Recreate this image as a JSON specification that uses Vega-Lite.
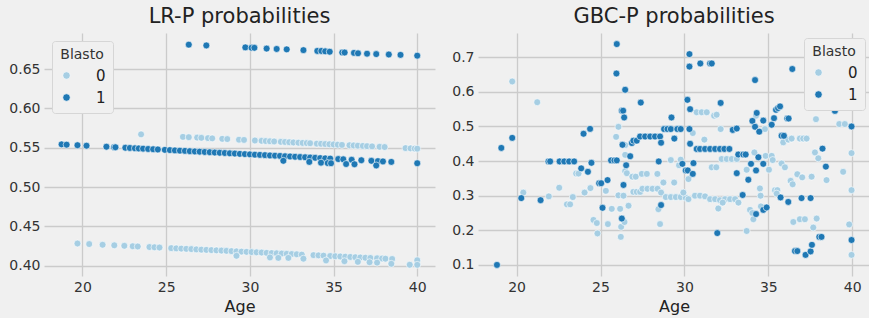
{
  "$schema": "https://vega.github.io/schema/vega-lite/v6.json",
  "background": "#f0f0f0",
  "padding": {"left": 8, "top": 6, "right": 0, "bottom": 4},
  "spacing": 16,
  "datasets": {
    "lr": [
      {"Age": 23.5, "P": 0.567, "Blasto": "0"},
      {"Age": 26.0, "P": 0.5638, "Blasto": "0"}, {"Age": 26.35, "P": 0.5634, "Blasto": "0"}, {"Age": 26.85, "P": 0.5629, "Blasto": "0"}, {"Age": 27.1, "P": 0.5626, "Blasto": "0"}, {"Age": 27.5, "P": 0.5622, "Blasto": "0"}, {"Age": 27.75, "P": 0.5619, "Blasto": "0"}, {"Age": 28.35, "P": 0.5613, "Blasto": "0"}, {"Age": 28.65, "P": 0.561, "Blasto": "0"}, {"Age": 29.35, "P": 0.5602, "Blasto": "0"}, {"Age": 29.65, "P": 0.5599, "Blasto": "0"}, {"Age": 30.3, "P": 0.5592, "Blasto": "0"}, {"Age": 30.7, "P": 0.5588, "Blasto": "0"}, {"Age": 30.95, "P": 0.5585, "Blasto": "0"}, {"Age": 31.2, "P": 0.5582, "Blasto": "0"}, {"Age": 31.45, "P": 0.558, "Blasto": "0"}, {"Age": 31.85, "P": 0.5575, "Blasto": "0"}, {"Age": 32.1, "P": 0.5573, "Blasto": "0"}, {"Age": 32.35, "P": 0.557, "Blasto": "0"}, {"Age": 32.6, "P": 0.5567, "Blasto": "0"}, {"Age": 32.9, "P": 0.5564, "Blasto": "0"}, {"Age": 33.15, "P": 0.5561, "Blasto": "0"}, {"Age": 33.4, "P": 0.5559, "Blasto": "0"}, {"Age": 33.6, "P": 0.5557, "Blasto": "0"}, {"Age": 34.0, "P": 0.5552, "Blasto": "0"}, {"Age": 34.25, "P": 0.555, "Blasto": "0"}, {"Age": 34.5, "P": 0.5547, "Blasto": "0"}, {"Age": 34.75, "P": 0.5544, "Blasto": "0"}, {"Age": 35.0, "P": 0.5542, "Blasto": "0"}, {"Age": 35.25, "P": 0.5539, "Blasto": "0"}, {"Age": 35.5, "P": 0.5536, "Blasto": "0"}, {"Age": 35.95, "P": 0.5531, "Blasto": "0"}, {"Age": 36.2, "P": 0.5529, "Blasto": "0"}, {"Age": 36.45, "P": 0.5526, "Blasto": "0"}, {"Age": 36.75, "P": 0.5523, "Blasto": "0"}, {"Age": 37.0, "P": 0.552, "Blasto": "0"}, {"Age": 37.3, "P": 0.5517, "Blasto": "0"}, {"Age": 37.75, "P": 0.5512, "Blasto": "0"}, {"Age": 38.05, "P": 0.5509, "Blasto": "0"}, {"Age": 39.3, "P": 0.5495, "Blasto": "0"}, {"Age": 39.6, "P": 0.5492, "Blasto": "0"}, {"Age": 39.85, "P": 0.5489, "Blasto": "0"}, {"Age": 40.0, "P": 0.5488, "Blasto": "0"},
      {"Age": 19.7, "P": 0.4283, "Blasto": "0"}, {"Age": 20.4, "P": 0.4276, "Blasto": "0"}, {"Age": 21.2, "P": 0.4267, "Blasto": "0"}, {"Age": 21.9, "P": 0.426, "Blasto": "0"}, {"Age": 22.5, "P": 0.4254, "Blasto": "0"}, {"Age": 23.0, "P": 0.4248, "Blasto": "0"}, {"Age": 23.3, "P": 0.4245, "Blasto": "0"}, {"Age": 24.0, "P": 0.4238, "Blasto": "0"}, {"Age": 24.3, "P": 0.4235, "Blasto": "0"}, {"Age": 24.6, "P": 0.4232, "Blasto": "0"}, {"Age": 25.3, "P": 0.4224, "Blasto": "0"}, {"Age": 25.6, "P": 0.4221, "Blasto": "0"}, {"Age": 25.9, "P": 0.4218, "Blasto": "0"}, {"Age": 26.2, "P": 0.4215, "Blasto": "0"}, {"Age": 26.5, "P": 0.4212, "Blasto": "0"}, {"Age": 26.8, "P": 0.4208, "Blasto": "0"}, {"Age": 27.1, "P": 0.4205, "Blasto": "0"}, {"Age": 27.4, "P": 0.4202, "Blasto": "0"}, {"Age": 27.7, "P": 0.4199, "Blasto": "0"}, {"Age": 28.0, "P": 0.4196, "Blasto": "0"}, {"Age": 28.3, "P": 0.4193, "Blasto": "0"}, {"Age": 28.6, "P": 0.419, "Blasto": "0"}, {"Age": 28.9, "P": 0.4186, "Blasto": "0"}, {"Age": 29.2, "P": 0.4183, "Blasto": "0"}, {"Age": 29.5, "P": 0.418, "Blasto": "0"}, {"Age": 29.8, "P": 0.4177, "Blasto": "0"}, {"Age": 30.1, "P": 0.4174, "Blasto": "0"}, {"Age": 30.4, "P": 0.4171, "Blasto": "0"}, {"Age": 30.7, "P": 0.4168, "Blasto": "0"}, {"Age": 31.0, "P": 0.4164, "Blasto": "0"}, {"Age": 31.3, "P": 0.4161, "Blasto": "0"}, {"Age": 31.6, "P": 0.4158, "Blasto": "0"}, {"Age": 31.9, "P": 0.4155, "Blasto": "0"}, {"Age": 32.2, "P": 0.4152, "Blasto": "0"}, {"Age": 32.5, "P": 0.4149, "Blasto": "0"}, {"Age": 32.8, "P": 0.4146, "Blasto": "0"}, {"Age": 33.1, "P": 0.4142, "Blasto": "0"}, {"Age": 33.8, "P": 0.4135, "Blasto": "0"}, {"Age": 34.1, "P": 0.4132, "Blasto": "0"}, {"Age": 34.4, "P": 0.4129, "Blasto": "0"}, {"Age": 34.8, "P": 0.4124, "Blasto": "0"}, {"Age": 35.1, "P": 0.4121, "Blasto": "0"}, {"Age": 35.4, "P": 0.4118, "Blasto": "0"}, {"Age": 35.7, "P": 0.4115, "Blasto": "0"}, {"Age": 36.0, "P": 0.4112, "Blasto": "0"}, {"Age": 36.3, "P": 0.4108, "Blasto": "0"}, {"Age": 36.6, "P": 0.4105, "Blasto": "0"}, {"Age": 36.9, "P": 0.4102, "Blasto": "0"}, {"Age": 37.2, "P": 0.4099, "Blasto": "0"}, {"Age": 37.6, "P": 0.4095, "Blasto": "0"}, {"Age": 37.9, "P": 0.4092, "Blasto": "0"}, {"Age": 38.1, "P": 0.409, "Blasto": "0"}, {"Age": 38.5, "P": 0.4086, "Blasto": "0"}, {"Age": 40.0, "P": 0.407, "Blasto": "0"},
      {"Age": 29.2, "P": 0.4127, "Blasto": "0"}, {"Age": 31.2, "P": 0.4106, "Blasto": "0"}, {"Age": 31.7, "P": 0.41, "Blasto": "0"}, {"Age": 32.3, "P": 0.41, "Blasto": "0"}, {"Age": 33.2, "P": 0.409, "Blasto": "0"}, {"Age": 34.55, "P": 0.4068, "Blasto": "0"}, {"Age": 35.65, "P": 0.4058, "Blasto": "0"}, {"Age": 36.45, "P": 0.405, "Blasto": "0"}, {"Age": 37.15, "P": 0.4045, "Blasto": "0"}, {"Age": 37.6, "P": 0.404, "Blasto": "0"}, {"Age": 38.45, "P": 0.4025, "Blasto": "0"}, {"Age": 39.55, "P": 0.4013, "Blasto": "0"}, {"Age": 40.0, "P": 0.4012, "Blasto": "0"},
      {"Age": 26.35, "P": 0.681, "Blasto": "1"}, {"Age": 27.4, "P": 0.68, "Blasto": "1"}, {"Age": 29.73, "P": 0.6775, "Blasto": "1"}, {"Age": 30.1, "P": 0.677, "Blasto": "1"}, {"Age": 30.27, "P": 0.677, "Blasto": "1"}, {"Age": 31.0, "P": 0.676, "Blasto": "1"}, {"Age": 31.6, "P": 0.6755, "Blasto": "1"}, {"Age": 32.2, "P": 0.675, "Blasto": "1"}, {"Age": 33.2, "P": 0.674, "Blasto": "1"}, {"Age": 34.03, "P": 0.673, "Blasto": "1"}, {"Age": 34.27, "P": 0.673, "Blasto": "1"}, {"Age": 34.5, "P": 0.6725, "Blasto": "1"}, {"Age": 34.77, "P": 0.672, "Blasto": "1"}, {"Age": 35.52, "P": 0.671, "Blasto": "1"}, {"Age": 35.66, "P": 0.671, "Blasto": "1"}, {"Age": 36.22, "P": 0.6705, "Blasto": "1"}, {"Age": 36.46, "P": 0.67, "Blasto": "1"}, {"Age": 37.0, "P": 0.6695, "Blasto": "1"}, {"Age": 37.55, "P": 0.669, "Blasto": "1"}, {"Age": 38.3, "P": 0.6685, "Blasto": "1"}, {"Age": 39.0, "P": 0.668, "Blasto": "1"}, {"Age": 40.0, "P": 0.667, "Blasto": "1"},
      {"Age": 18.75, "P": 0.5543, "Blasto": "1"}, {"Age": 19.05, "P": 0.5539, "Blasto": "1"}, {"Age": 19.7, "P": 0.5532, "Blasto": "1"}, {"Age": 20.24, "P": 0.5526, "Blasto": "1"}, {"Age": 21.43, "P": 0.5513, "Blasto": "1"}, {"Age": 21.89, "P": 0.5507, "Blasto": "1"}, {"Age": 21.97, "P": 0.5506, "Blasto": "1"}, {"Age": 22.56, "P": 0.55, "Blasto": "1"}, {"Age": 22.83, "P": 0.5497, "Blasto": "1"}, {"Age": 23.13, "P": 0.5493, "Blasto": "1"}, {"Age": 23.36, "P": 0.5491, "Blasto": "1"}, {"Age": 23.62, "P": 0.5488, "Blasto": "1"}, {"Age": 23.92, "P": 0.5484, "Blasto": "1"}, {"Age": 24.22, "P": 0.5481, "Blasto": "1"}, {"Age": 24.5, "P": 0.5478, "Blasto": "1"}, {"Age": 24.92, "P": 0.5473, "Blasto": "1"}, {"Age": 25.22, "P": 0.547, "Blasto": "1"}, {"Age": 25.52, "P": 0.5466, "Blasto": "1"}, {"Age": 25.82, "P": 0.5463, "Blasto": "1"}, {"Age": 26.12, "P": 0.546, "Blasto": "1"}, {"Age": 26.41, "P": 0.5456, "Blasto": "1"}, {"Age": 26.71, "P": 0.5453, "Blasto": "1"}, {"Age": 27.0, "P": 0.545, "Blasto": "1"}, {"Age": 27.3, "P": 0.5446, "Blasto": "1"}, {"Age": 27.6, "P": 0.5443, "Blasto": "1"}, {"Age": 27.9, "P": 0.5439, "Blasto": "1"}, {"Age": 28.2, "P": 0.5436, "Blasto": "1"}, {"Age": 28.5, "P": 0.5433, "Blasto": "1"}, {"Age": 28.8, "P": 0.5429, "Blasto": "1"}, {"Age": 29.1, "P": 0.5426, "Blasto": "1"}, {"Age": 29.4, "P": 0.5422, "Blasto": "1"}, {"Age": 29.7, "P": 0.5419, "Blasto": "1"}, {"Age": 30.0, "P": 0.5416, "Blasto": "1"}, {"Age": 30.3, "P": 0.5412, "Blasto": "1"}, {"Age": 30.6, "P": 0.5409, "Blasto": "1"}, {"Age": 30.9, "P": 0.5406, "Blasto": "1"}, {"Age": 31.2, "P": 0.5402, "Blasto": "1"}, {"Age": 31.5, "P": 0.5399, "Blasto": "1"}, {"Age": 31.8, "P": 0.5396, "Blasto": "1"}, {"Age": 32.1, "P": 0.5392, "Blasto": "1"}, {"Age": 32.4, "P": 0.5389, "Blasto": "1"}, {"Age": 32.7, "P": 0.5385, "Blasto": "1"}, {"Age": 33.0, "P": 0.5382, "Blasto": "1"}, {"Age": 33.3, "P": 0.5379, "Blasto": "1"}, {"Age": 33.6, "P": 0.5375, "Blasto": "1"}, {"Age": 33.9, "P": 0.5372, "Blasto": "1"}, {"Age": 34.2, "P": 0.5368, "Blasto": "1"}, {"Age": 34.5, "P": 0.5365, "Blasto": "1"}, {"Age": 34.8, "P": 0.5362, "Blasto": "1"}, {"Age": 35.28, "P": 0.5356, "Blasto": "1"}, {"Age": 35.58, "P": 0.5353, "Blasto": "1"}, {"Age": 36.08, "P": 0.5347, "Blasto": "1"}, {"Age": 36.66, "P": 0.5341, "Blasto": "1"}, {"Age": 37.26, "P": 0.5334, "Blasto": "1"}, {"Age": 37.65, "P": 0.533, "Blasto": "1"}, {"Age": 37.95, "P": 0.5326, "Blasto": "1"}, {"Age": 38.45, "P": 0.532, "Blasto": "1"}, {"Age": 40.0, "P": 0.5303, "Blasto": "1"},
      {"Age": 32.0, "P": 0.5334, "Blasto": "1"}, {"Age": 33.55, "P": 0.532, "Blasto": "1"}, {"Age": 34.25, "P": 0.531, "Blasto": "1"}, {"Age": 34.65, "P": 0.5305, "Blasto": "1"}, {"Age": 34.85, "P": 0.5303, "Blasto": "1"}, {"Age": 35.75, "P": 0.5293, "Blasto": "1"}, {"Age": 36.25, "P": 0.529, "Blasto": "1"}, {"Age": 37.55, "P": 0.5275, "Blasto": "1"}
    ],
    "gbc": [
      {"Age": 19.74, "P": 0.63, "Blasto": "0"}, {"Age": 20.4, "P": 0.309, "Blasto": "0"}, {"Age": 21.23, "P": 0.57, "Blasto": "0"}, {"Age": 21.92, "P": 0.298, "Blasto": "0"}, {"Age": 22.54, "P": 0.323, "Blasto": "0"}, {"Age": 23.0, "P": 0.275, "Blasto": "0"}, {"Age": 23.19, "P": 0.275, "Blasto": "0"}, {"Age": 23.35, "P": 0.296, "Blasto": "0"}, {"Age": 23.55, "P": 0.364, "Blasto": "0"}, {"Age": 23.69, "P": 0.364, "Blasto": "0"}, {"Age": 24.05, "P": 0.309, "Blasto": "0"}, {"Age": 24.4, "P": 0.322, "Blasto": "0"}, {"Age": 24.58, "P": 0.23, "Blasto": "0"}, {"Age": 24.78, "P": 0.221, "Blasto": "0"}, {"Age": 24.82, "P": 0.191, "Blasto": "0"}, {"Age": 25.32, "P": 0.314, "Blasto": "0"}, {"Age": 25.44, "P": 0.218, "Blasto": "0"}, {"Age": 25.67, "P": 0.262, "Blasto": "0"}, {"Age": 25.93, "P": 0.47, "Blasto": "0"}, {"Age": 26.07, "P": 0.499, "Blasto": "0"}, {"Age": 26.07, "P": 0.301, "Blasto": "0"}, {"Age": 26.17, "P": 0.262, "Blasto": "0"}, {"Age": 26.23, "P": 0.21, "Blasto": "0"}, {"Age": 26.21, "P": 0.181, "Blasto": "0"}, {"Age": 26.37, "P": 0.3, "Blasto": "0"}, {"Age": 26.43, "P": 0.224, "Blasto": "0"}, {"Age": 26.47, "P": 0.446, "Blasto": "0"}, {"Age": 26.47, "P": 0.418, "Blasto": "0"}, {"Age": 26.47, "P": 0.371, "Blasto": "0"}, {"Age": 26.57, "P": 0.365, "Blasto": "0"}, {"Age": 26.67, "P": 0.271, "Blasto": "0"}, {"Age": 26.9, "P": 0.355, "Blasto": "0"}, {"Age": 27.1, "P": 0.355, "Blasto": "0"}, {"Age": 26.96, "P": 0.311, "Blasto": "0"}, {"Age": 27.16, "P": 0.311, "Blasto": "0"}, {"Age": 27.36, "P": 0.311, "Blasto": "0"}, {"Age": 27.5, "P": 0.32, "Blasto": "0"}, {"Age": 27.8, "P": 0.32, "Blasto": "0"}, {"Age": 28.1, "P": 0.32, "Blasto": "0"}, {"Age": 28.4, "P": 0.32, "Blasto": "0"}, {"Age": 27.46, "P": 0.363, "Blasto": "0"}, {"Age": 27.76, "P": 0.363, "Blasto": "0"}, {"Age": 28.39, "P": 0.363, "Blasto": "0"}, {"Age": 28.45, "P": 0.261, "Blasto": "0"}, {"Age": 28.55, "P": 0.218, "Blasto": "0"}, {"Age": 28.61, "P": 0.309, "Blasto": "0"}, {"Age": 28.75, "P": 0.338, "Blasto": "0"}, {"Age": 28.89, "P": 0.296, "Blasto": "0"}, {"Age": 29.19, "P": 0.296, "Blasto": "0"}, {"Age": 29.49, "P": 0.296, "Blasto": "0"}, {"Age": 29.78, "P": 0.296, "Blasto": "0"}, {"Age": 30.08, "P": 0.294, "Blasto": "0"}, {"Age": 30.24, "P": 0.29, "Blasto": "0"}, {"Age": 29.19, "P": 0.403, "Blasto": "0"}, {"Age": 29.39, "P": 0.338, "Blasto": "0"}, {"Age": 29.68, "P": 0.388, "Blasto": "0"}, {"Age": 29.78, "P": 0.404, "Blasto": "0"}, {"Age": 29.94, "P": 0.309, "Blasto": "0"}, {"Age": 30.24, "P": 0.348, "Blasto": "0"}, {"Age": 30.5, "P": 0.481, "Blasto": "0"}, {"Age": 30.73, "P": 0.541, "Blasto": "0"}, {"Age": 31.03, "P": 0.541, "Blasto": "0"}, {"Age": 31.33, "P": 0.541, "Blasto": "0"}, {"Age": 30.63, "P": 0.3, "Blasto": "0"}, {"Age": 30.93, "P": 0.3, "Blasto": "0"}, {"Age": 31.23, "P": 0.298, "Blasto": "0"}, {"Age": 31.53, "P": 0.29, "Blasto": "0"}, {"Age": 31.19, "P": 0.462, "Blasto": "0"}, {"Age": 31.63, "P": 0.382, "Blasto": "0"}, {"Age": 31.9, "P": 0.382, "Blasto": "0"}, {"Age": 31.77, "P": 0.531, "Blasto": "0"}, {"Age": 31.92, "P": 0.534, "Blasto": "0"}, {"Age": 32.02, "P": 0.263, "Blasto": "0"}, {"Age": 31.83, "P": 0.29, "Blasto": "0"}, {"Age": 32.12, "P": 0.287, "Blasto": "0"}, {"Age": 32.42, "P": 0.29, "Blasto": "0"}, {"Age": 32.72, "P": 0.29, "Blasto": "0"}, {"Age": 33.02, "P": 0.29, "Blasto": "0"}, {"Age": 33.22, "P": 0.28, "Blasto": "0"}, {"Age": 32.22, "P": 0.406, "Blasto": "0"}, {"Age": 32.52, "P": 0.406, "Blasto": "0"}, {"Age": 32.82, "P": 0.406, "Blasto": "0"}, {"Age": 33.12, "P": 0.406, "Blasto": "0"}, {"Age": 32.16, "P": 0.4925, "Blasto": "0"}, {"Age": 32.28, "P": 0.28, "Blasto": "0"}, {"Age": 33.71, "P": 0.198, "Blasto": "0"}, {"Age": 33.71, "P": 0.375, "Blasto": "0"}, {"Age": 33.91, "P": 0.259, "Blasto": "0"}, {"Age": 34.05, "P": 0.25, "Blasto": "0"}, {"Age": 34.11, "P": 0.232, "Blasto": "0"}, {"Age": 34.17, "P": 0.425, "Blasto": "0"}, {"Age": 34.27, "P": 0.531, "Blasto": "0"}, {"Age": 34.5, "P": 0.321, "Blasto": "0"}, {"Age": 34.54, "P": 0.3, "Blasto": "0"}, {"Age": 34.56, "P": 0.269, "Blasto": "0"}, {"Age": 34.8, "P": 0.4925, "Blasto": "0"}, {"Age": 34.84, "P": 0.415, "Blasto": "0"}, {"Age": 35.04, "P": 0.375, "Blasto": "0"}, {"Age": 35.2, "P": 0.415, "Blasto": "0"}, {"Age": 35.26, "P": 0.403, "Blasto": "0"}, {"Age": 35.4, "P": 0.316, "Blasto": "0"}, {"Age": 35.54, "P": 0.316, "Blasto": "0"}, {"Age": 35.5, "P": 0.306, "Blasto": "0"}, {"Age": 35.79, "P": 0.393, "Blasto": "0"}, {"Age": 35.89, "P": 0.454, "Blasto": "0"}, {"Age": 35.99, "P": 0.382, "Blasto": "0"}, {"Age": 36.19, "P": 0.462, "Blasto": "0"}, {"Age": 36.39, "P": 0.465, "Blasto": "0"}, {"Age": 36.33, "P": 0.343, "Blasto": "0"}, {"Age": 36.45, "P": 0.333, "Blasto": "0"}, {"Age": 36.49, "P": 0.224, "Blasto": "0"}, {"Age": 36.73, "P": 0.362, "Blasto": "0"}, {"Age": 36.88, "P": 0.465, "Blasto": "0"}, {"Age": 37.08, "P": 0.465, "Blasto": "0"}, {"Age": 37.28, "P": 0.465, "Blasto": "0"}, {"Age": 36.88, "P": 0.232, "Blasto": "0"}, {"Age": 37.18, "P": 0.232, "Blasto": "0"}, {"Age": 37.02, "P": 0.353, "Blasto": "0"}, {"Age": 37.58, "P": 0.355, "Blasto": "0"}, {"Age": 37.68, "P": 0.208, "Blasto": "0"}, {"Age": 37.78, "P": 0.425, "Blasto": "0"}, {"Age": 37.88, "P": 0.234, "Blasto": "0"}, {"Age": 37.84, "P": 0.521, "Blasto": "0"}, {"Age": 37.98, "P": 0.408, "Blasto": "0"}, {"Age": 38.47, "P": 0.345, "Blasto": "0"}, {"Age": 39.23, "P": 0.507, "Blasto": "0"}, {"Age": 39.56, "P": 0.507, "Blasto": "0"}, {"Age": 39.46, "P": 0.369, "Blasto": "0"}, {"Age": 39.82, "P": 0.217, "Blasto": "0"}, {"Age": 39.96, "P": 0.423, "Blasto": "0"}, {"Age": 39.96, "P": 0.316, "Blasto": "0"}, {"Age": 39.96, "P": 0.129, "Blasto": "0"},
      {"Age": 18.83, "P": 0.1, "Blasto": "1"}, {"Age": 19.09, "P": 0.438, "Blasto": "1"}, {"Age": 19.74, "P": 0.467, "Blasto": "1"}, {"Age": 20.28, "P": 0.293, "Blasto": "1"}, {"Age": 21.43, "P": 0.287, "Blasto": "1"}, {"Age": 21.9, "P": 0.399, "Blasto": "1"}, {"Age": 22.0, "P": 0.399, "Blasto": "1"}, {"Age": 22.56, "P": 0.399, "Blasto": "1"}, {"Age": 22.84, "P": 0.399, "Blasto": "1"}, {"Age": 23.13, "P": 0.399, "Blasto": "1"}, {"Age": 23.43, "P": 0.399, "Blasto": "1"}, {"Age": 23.85, "P": 0.379, "Blasto": "1"}, {"Age": 23.99, "P": 0.479, "Blasto": "1"}, {"Age": 24.25, "P": 0.369, "Blasto": "1"}, {"Age": 24.38, "P": 0.493, "Blasto": "1"}, {"Age": 24.46, "P": 0.395, "Blasto": "1"}, {"Age": 24.92, "P": 0.336, "Blasto": "1"}, {"Age": 25.04, "P": 0.336, "Blasto": "1"}, {"Age": 25.12, "P": 0.265, "Blasto": "1"}, {"Age": 25.42, "P": 0.345, "Blasto": "1"}, {"Age": 25.63, "P": 0.402, "Blasto": "1"}, {"Age": 25.83, "P": 0.402, "Blasto": "1"}, {"Age": 25.97, "P": 0.402, "Blasto": "1"}, {"Age": 25.97, "P": 0.738, "Blasto": "1"}, {"Age": 25.95, "P": 0.653, "Blasto": "1"}, {"Age": 26.27, "P": 0.5455, "Blasto": "1"}, {"Age": 26.35, "P": 0.5455, "Blasto": "1"}, {"Age": 26.41, "P": 0.526, "Blasto": "1"}, {"Age": 26.47, "P": 0.606, "Blasto": "1"}, {"Age": 26.37, "P": 0.331, "Blasto": "1"}, {"Age": 26.27, "P": 0.234, "Blasto": "1"}, {"Age": 26.53, "P": 0.388, "Blasto": "1"}, {"Age": 26.77, "P": 0.414, "Blasto": "1"}, {"Age": 26.31, "P": 0.447, "Blasto": "1"}, {"Age": 26.87, "P": 0.452, "Blasto": "1"}, {"Age": 26.96, "P": 0.459, "Blasto": "1"}, {"Age": 27.16, "P": 0.459, "Blasto": "1"}, {"Age": 27.4, "P": 0.569, "Blasto": "1"}, {"Age": 27.36, "P": 0.471, "Blasto": "1"}, {"Age": 27.66, "P": 0.471, "Blasto": "1"}, {"Age": 27.96, "P": 0.471, "Blasto": "1"}, {"Age": 28.25, "P": 0.471, "Blasto": "1"}, {"Age": 28.55, "P": 0.471, "Blasto": "1"}, {"Age": 28.61, "P": 0.453, "Blasto": "1"}, {"Age": 28.47, "P": 0.399, "Blasto": "1"}, {"Age": 28.61, "P": 0.273, "Blasto": "1"}, {"Age": 28.79, "P": 0.4925, "Blasto": "1"}, {"Age": 28.99, "P": 0.4925, "Blasto": "1"}, {"Age": 29.19, "P": 0.4925, "Blasto": "1"}, {"Age": 29.23, "P": 0.526, "Blasto": "1"}, {"Age": 29.4, "P": 0.465, "Blasto": "1"}, {"Age": 29.58, "P": 0.4925, "Blasto": "1"}, {"Age": 29.78, "P": 0.4925, "Blasto": "1"}, {"Age": 29.88, "P": 0.392, "Blasto": "1"}, {"Age": 30.08, "P": 0.373, "Blasto": "1"}, {"Age": 30.2, "P": 0.373, "Blasto": "1"}, {"Age": 30.18, "P": 0.577, "Blasto": "1"}, {"Age": 30.3, "P": 0.709, "Blasto": "1"}, {"Age": 30.3, "P": 0.673, "Blasto": "1"}, {"Age": 30.34, "P": 0.55, "Blasto": "1"}, {"Age": 30.3, "P": 0.4925, "Blasto": "1"}, {"Age": 30.34, "P": 0.45, "Blasto": "1"}, {"Age": 30.5, "P": 0.363, "Blasto": "1"}, {"Age": 30.54, "P": 0.394, "Blasto": "1"}, {"Age": 30.95, "P": 0.682, "Blasto": "1"}, {"Age": 31.53, "P": 0.682, "Blasto": "1"}, {"Age": 31.63, "P": 0.682, "Blasto": "1"}, {"Age": 30.73, "P": 0.435, "Blasto": "1"}, {"Age": 30.93, "P": 0.435, "Blasto": "1"}, {"Age": 31.23, "P": 0.435, "Blasto": "1"}, {"Age": 31.53, "P": 0.435, "Blasto": "1"}, {"Age": 31.83, "P": 0.435, "Blasto": "1"}, {"Age": 32.12, "P": 0.435, "Blasto": "1"}, {"Age": 32.38, "P": 0.435, "Blasto": "1"}, {"Age": 32.68, "P": 0.435, "Blasto": "1"}, {"Age": 32.16, "P": 0.568, "Blasto": "1"}, {"Age": 31.96, "P": 0.192, "Blasto": "1"}, {"Age": 32.88, "P": 0.49, "Blasto": "1"}, {"Age": 33.12, "P": 0.494, "Blasto": "1"}, {"Age": 33.12, "P": 0.365, "Blasto": "1"}, {"Age": 33.21, "P": 0.419, "Blasto": "1"}, {"Age": 33.51, "P": 0.419, "Blasto": "1"}, {"Age": 33.65, "P": 0.419, "Blasto": "1"}, {"Age": 33.47, "P": 0.302, "Blasto": "1"}, {"Age": 33.81, "P": 0.346, "Blasto": "1"}, {"Age": 33.97, "P": 0.392, "Blasto": "1"}, {"Age": 34.05, "P": 0.516, "Blasto": "1"}, {"Age": 34.21, "P": 0.634, "Blasto": "1"}, {"Age": 34.21, "P": 0.499, "Blasto": "1"}, {"Age": 34.27, "P": 0.373, "Blasto": "1"}, {"Age": 34.27, "P": 0.247, "Blasto": "1"}, {"Age": 34.31, "P": 0.539, "Blasto": "1"}, {"Age": 34.41, "P": 0.411, "Blasto": "1"}, {"Age": 34.46, "P": 0.485, "Blasto": "1"}, {"Age": 34.7, "P": 0.517, "Blasto": "1"}, {"Age": 34.7, "P": 0.392, "Blasto": "1"}, {"Age": 34.7, "P": 0.259, "Blasto": "1"}, {"Age": 34.9, "P": 0.266, "Blasto": "1"}, {"Age": 35.2, "P": 0.505, "Blasto": "1"}, {"Age": 35.34, "P": 0.524, "Blasto": "1"}, {"Age": 35.46, "P": 0.548, "Blasto": "1"}, {"Age": 35.58, "P": 0.553, "Blasto": "1"}, {"Age": 35.7, "P": 0.558, "Blasto": "1"}, {"Age": 35.73, "P": 0.295, "Blasto": "1"}, {"Age": 35.79, "P": 0.473, "Blasto": "1"}, {"Age": 35.93, "P": 0.473, "Blasto": "1"}, {"Age": 36.13, "P": 0.523, "Blasto": "1"}, {"Age": 36.21, "P": 0.523, "Blasto": "1"}, {"Age": 36.19, "P": 0.282, "Blasto": "1"}, {"Age": 36.43, "P": 0.666, "Blasto": "1"}, {"Age": 36.59, "P": 0.14, "Blasto": "1"}, {"Age": 36.73, "P": 0.14, "Blasto": "1"}, {"Age": 36.98, "P": 0.293, "Blasto": "1"}, {"Age": 37.22, "P": 0.129, "Blasto": "1"}, {"Age": 37.52, "P": 0.139, "Blasto": "1"}, {"Age": 37.52, "P": 0.293, "Blasto": "1"}, {"Age": 37.6, "P": 0.158, "Blasto": "1"}, {"Age": 38.04, "P": 0.181, "Blasto": "1"}, {"Age": 38.17, "P": 0.181, "Blasto": "1"}, {"Age": 38.23, "P": 0.436, "Blasto": "1"}, {"Age": 38.43, "P": 0.384, "Blasto": "1"}, {"Age": 38.97, "P": 0.545, "Blasto": "1"}, {"Age": 39.96, "P": 0.5, "Blasto": "1"}, {"Age": 39.96, "P": 0.172, "Blasto": "1"}
    ]
  },
  "hconcat": [
    {
      "title": "LR-P probabilities",
      "data": {"name": "lr"},
      "width": 391,
      "height": 243,
      "mark": {"type": "circle", "size": 48, "opacity": 1, "stroke": "white", "strokeWidth": 0.6},
      "encoding": {
        "x": {"field": "Age", "type": "quantitative", "title": "Age",
              "scale": {"domain": [17.7, 41.06], "nice": false, "zero": false},
              "axis": {"values": [20, 25, 30, 35, 40]}},
        "y": {"field": "P", "type": "quantitative", "title": null,
              "scale": {"domain": [0.387, 0.6958], "nice": false, "zero": false},
              "axis": {"values": [0.4, 0.45, 0.5, 0.55, 0.6, 0.65], "format": ".2f"}},
        "color": {"field": "Blasto", "type": "nominal",
                  "scale": {"domain": ["0", "1"], "range": ["#a6cee3", "#1f78b4"]},
                  "legend": {"orient": "top-left", "offset": 8}}
      }
    },
    {
      "title": "GBC-P probabilities",
      "data": {"name": "gbc"},
      "width": 392,
      "height": 243,
      "mark": {"type": "circle", "size": 48, "opacity": 1, "stroke": "white", "strokeWidth": 0.6},
      "encoding": {
        "x": {"field": "Age", "type": "quantitative", "title": "Age",
              "scale": {"domain": [17.7, 41.06], "nice": false, "zero": false},
              "axis": {"values": [20, 25, 30, 35, 40]}},
        "y": {"field": "P", "type": "quantitative", "title": null,
              "scale": {"domain": [0.068, 0.77], "nice": false, "zero": false},
              "axis": {"values": [0.1, 0.2, 0.3, 0.4, 0.5, 0.6, 0.7], "format": ".1f"}},
        "color": {"field": "Blasto", "type": "nominal",
                  "scale": {"domain": ["0", "1"], "range": ["#a6cee3", "#1f78b4"]},
                  "legend": {"orient": "top-right", "offset": 5}}
      }
    }
  ],
  "resolve": {"scale": {"x": "independent", "y": "independent", "color": "independent"}, "legend": {"color": "independent"}},
  "config": {
    "font": "DejaVu Sans",
    "view": {"stroke": null, "fill": "#f0f0f0"},
    "title": {"fontSize": 21, "fontWeight": "normal", "color": "#222222", "offset": 6, "font": "DejaVu Sans"},
    "axis": {
      "domain": false, "ticks": false, "grid": true, "gridColor": "#cbcbcb", "gridWidth": 1.3,
      "labelFontSize": 14, "labelColor": "#333333", "labelPadding": 4, "labelFont": "DejaVu Sans",
      "titleFontSize": 16, "titleFontWeight": "normal", "titleColor": "#222222", "titlePadding": 4, "titleFont": "DejaVu Sans"
    },
    "legend": {
      "fillColor": "#f0f0f0", "strokeColor": "#d6d6d6", "cornerRadius": 3, "padding": 7,
      "titleFontSize": 14, "titleFontWeight": "normal", "titleColor": "#333333", "titleAnchor": "middle", "titlePadding": 6,
      "labelFontSize": 15, "labelColor": "#222222", "labelOffset": 22, "rowPadding": 6,
      "symbolType": "circle", "symbolSize": 55, "symbolStrokeColor": "white", "symbolStrokeWidth": 0.6, "symbolOpacity": 1
    }
  }
}
